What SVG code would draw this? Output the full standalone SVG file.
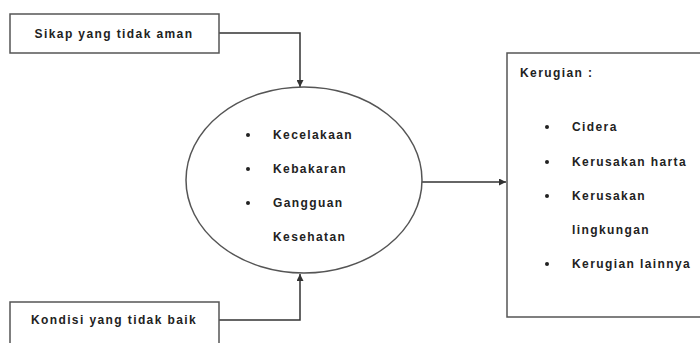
<svg xmlns="http://www.w3.org/2000/svg" width="700" height="343" viewBox="0 0 700 343">
<style>
.box{fill:#fff;stroke:#555;stroke-width:1.5}
.t{font-family:"Liberation Sans",Arial,sans-serif;font-size:12px;font-weight:bold;fill:#222;letter-spacing:1.4px}
.b{fill:#222}
.c{fill:none;stroke:#333;stroke-width:1.5}
</style>
<defs>
<marker id="ah" viewBox="0 0 10 10" refX="10" refY="5" markerWidth="7" markerHeight="7" markerUnits="userSpaceOnUse" orient="auto">
<path d="M0,0 L10,5 L0,10 z" fill="#333"/>
</marker>
</defs>
<rect width="700" height="343" fill="#fff"/>
<g id="connectors">
<polyline class="c" points="219,33 300,33 300,87" marker-end="url(#ah)"/>
<polyline class="c" points="219,320 300,320 300,274" marker-end="url(#ah)"/>
<line class="c" x1="422" y1="182" x2="506" y2="182" marker-end="url(#ah)"/>
</g>
<g id="sikap">
<rect class="box" x="10" y="14" width="209" height="39"/>
<text class="t" x="114" y="38" text-anchor="middle">Sikap yang tidak aman</text>
</g>
<g id="kondisi">
<rect class="box" x="10" y="302" width="209" height="45"/>
<text class="t" x="114" y="324" text-anchor="middle">Kondisi yang tidak baik</text>
</g>
<g id="kejadian">
<ellipse class="box" cx="304" cy="180" rx="118" ry="93"/>
<circle class="b" cx="248" cy="135" r="2"/>
<circle class="b" cx="248" cy="169" r="2"/>
<circle class="b" cx="248" cy="203" r="2"/>
<text class="t" x="273" y="139">Kecelakaan</text>
<text class="t" x="273" y="173">Kebakaran</text>
<text class="t" x="273" y="207">Gangguan</text>
<text class="t" x="273" y="241">Kesehatan</text>
</g>
<g id="kerugian">
<rect class="box" x="507" y="53" width="200" height="264"/>
<text class="t" x="520" y="77">Kerugian :</text>
<circle class="b" cx="547" cy="127" r="2"/>
<circle class="b" cx="547" cy="162" r="2"/>
<circle class="b" cx="547" cy="196" r="2"/>
<circle class="b" cx="547" cy="264" r="2"/>
<text class="t" x="572" y="131">Cidera</text>
<text class="t" x="572" y="166">Kerusakan harta</text>
<text class="t" x="572" y="200">Kerusakan</text>
<text class="t" x="572" y="234">lingkungan</text>
<text class="t" x="572" y="268">Kerugian lainnya</text>
</g>
</svg>
